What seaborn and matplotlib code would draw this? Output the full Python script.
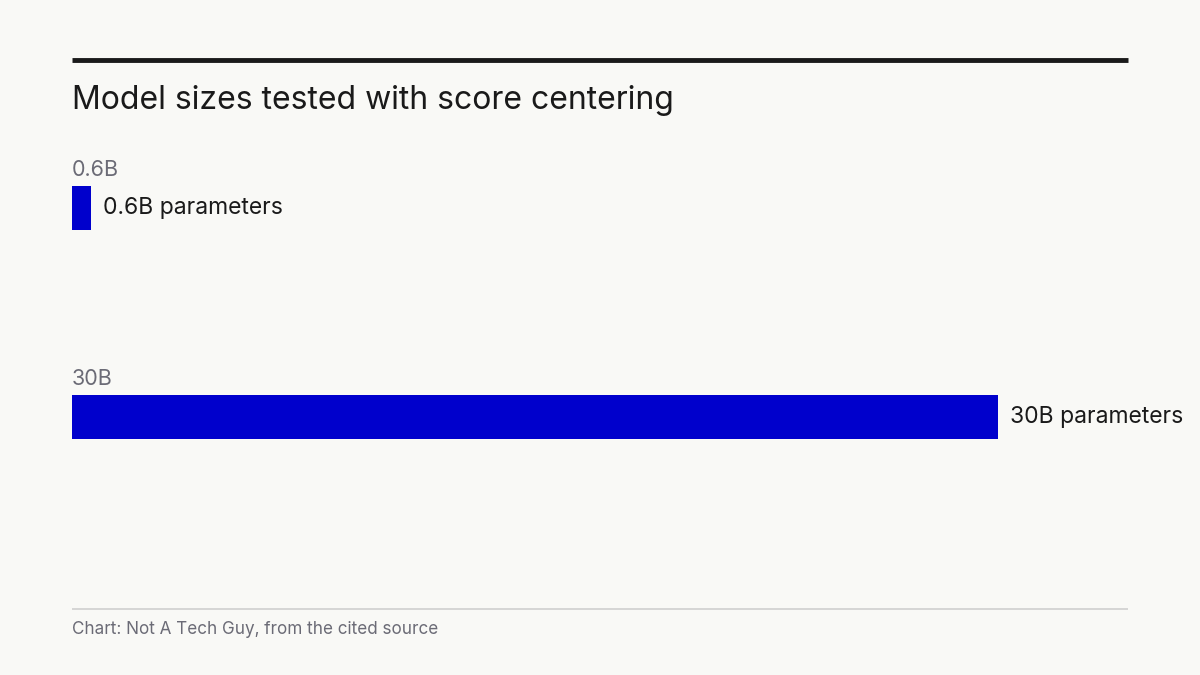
import matplotlib
matplotlib.use("Agg")
import matplotlib.pyplot as plt
import seaborn as sns
from matplotlib.lines import Line2D

categories = ["0.6B", "30B"]
values = [0.6, 30]
value_labels = ["0.6B parameters", "30B parameters"]

title = "Model sizes tested with score centering"
source = "Chart: Not A Tech Guy, from the cited source"

bg = "#f9f9f6"
bar_color = "#0000cc"

sns.set_theme(style="white")
plt.rcParams["font.family"] = ["Inter", "DejaVu Sans"]

W, H = 1200, 675
fig = plt.figure(figsize=(12, 6.75), dpi=100, facecolor=bg)
# axes spans x 72..1128 px, y 150..600 px
ax = fig.add_axes([72 / W, 1 - 600 / H, 1056 / W, 450 / H], facecolor=bg)

bar_h = 0.21
sns.barplot(x=values, y=categories, orient="h", color=bar_color,
            width=bar_h, saturation=1, linewidth=0, ax=ax)

xmax = 30 * 1056 / 926
ax.set_xlim(0, xmax)
ax.set_ylim(1 + 183 / 209, -58 / 209)
ax.axis("off")

for i, (cat, v, lab) in enumerate(zip(categories, values, value_labels)):
    ax.text(0, i - bar_h / 2 - 0.03, cat, ha="left", va="bottom",
            fontsize=15.5, color="#6b6b76")
    ax.text(v + 0.4, i, lab, ha="left", va="center",
            fontsize=16.5, color="#1a1a1a")

fig.add_artist(Line2D([72 / W, 1128 / W], [1 - 60 / H] * 2,
                      color="#1a1a1a", lw=3.5, solid_capstyle="butt"))
fig.text(72 / W, 1 - 101 / H, title, ha="left", va="center",
         fontsize=23, color="#1a1a1a")
fig.add_artist(Line2D([72 / W, 1128 / W], [1 - 609 / H] * 2,
                      color="#cfcfcf", lw=1.2, solid_capstyle="butt"))
fig.text(72 / W, 1 - 629 / H, source, ha="left", va="center",
         fontsize=12.3, color="#6b6b76")

fig.savefig("out.png", dpi=100, facecolor=bg)
